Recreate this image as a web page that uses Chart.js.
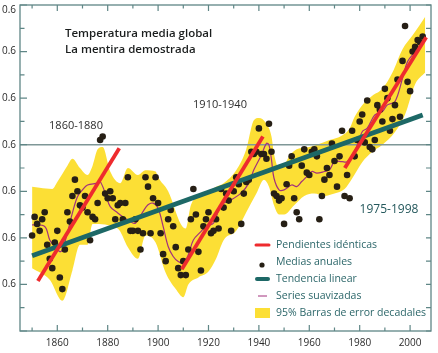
<!DOCTYPE html>
<html><head><meta charset="utf-8">
<script src="https://cdn.jsdelivr.net/npm/chart.js@4.4.1/dist/chart.umd.min.js"></script>
<style>html,body{margin:0;padding:0;background:#fff;}canvas{display:block}</style>
</head><body>
<div style="width:438px;height:353px"><canvas id="c" width="438" height="353"></canvas></div>
<script>
// ---------- DATA ----------
const firstYear = 1850;
const annualMeans = [
 -0.39,-0.31,-0.34,-0.37,-0.32,-0.29,-0.43,-0.49,-0.53,-0.42,
 -0.37,-0.57,-0.62,-0.45,-0.29,-0.33,-0.22,-0.15,-0.20,-0.26,
 -0.27,-0.22,-0.29,-0.41,-0.31,-0.32,-0.25,0.02,0.035,-0.21,
 -0.23,-0.20,-0.23,-0.32,-0.26,-0.25,-0.32,-0.25,-0.14,-0.37,
 -0.37,-0.32,-0.37,-0.45,-0.38,-0.14,-0.18,-0.38,-0.23,-0.14,
 -0.25,-0.38,-0.47,-0.50,-0.32,-0.28,-0.35,-0.44,-0.53,-0.56,
 -0.50,-0.56,-0.45,-0.32,-0.19,-0.30,-0.46,-0.54,-0.35,-0.32,
 -0.29,-0.38,-0.37,-0.32,-0.36,-0.19,-0.27,-0.21,-0.24,-0.37,
 -0.20,-0.14,-0.17,-0.34,-0.21,-0.16,-0.15,-0.03,-0.04,-0.03,
 0.07,-0.04,-0.04,-0.06,0.09,-0.03,-0.21,-0.22,-0.24,-0.23,
 -0.34,-0.17,-0.09,-0.05,-0.23,-0.29,-0.32,-0.09,-0.02,-0.12,
 -0.13,-0.03,-0.02,-0.05,-0.32,-0.22,-0.15,-0.10,-0.13,0.005,
 -0.07,-0.18,-0.05,0.06,-0.22,-0.13,-0.23,0.06,-0.05,0.02,
 0.10,0.13,0.01,0.19,-0.01,-0.02,0.02,0.17,0.15,0.10,
 0.24,0.20,0.06,0.11,0.17,0.28,0.12,0.36,0.51,0.27,
 0.23,0.40,0.42,0.45,0.44,0.465
];
const smoothYears = [1850,1855,1857,1859,1861,1862,1864,1866,1868,1870,1872,1876,1877,1879,1881,1884,1886,1889,1891,1894,1896,1898,1900,1902,1904,1906,1908,1910,1912,1914,1917,1919,1922,1925,1929,1933,1936,1938,1941,1943,1944,1945,1946,1948,1950,1953,1955,1957,1959,1961,1963,1966,1968,1970,1973,1975,1978,1981,1983,1986,1989,1991,1994,1997,1999,2002,2005];
const smoothValues = [-0.344,-0.351,-0.409,-0.437,-0.459,-0.452,-0.379,-0.293,-0.223,-0.194,-0.173,-0.165,-0.158,-0.207,-0.266,-0.293,-0.309,-0.330,-0.337,-0.287,-0.258,-0.251,-0.273,-0.351,-0.437,-0.480,-0.502,-0.509,-0.473,-0.409,-0.373,-0.351,-0.337,-0.258,-0.237,-0.207,-0.165,-0.108,-0.044,0.006,-0.001,-0.065,-0.144,-0.194,-0.194,-0.173,-0.180,-0.158,-0.137,-0.115,-0.122,-0.115,-0.108,-0.073,-0.073,-0.073,-0.030,0.056,0.071,0.128,0.142,0.171,0.185,0.285,0.357,0.400,0.442];
const bandUpperYears = [1850,1853,1858,1860,1864,1866,1869,1872,1874,1876,1878,1881,1885,1888,1892,1895,1899,1900,1904,1909,1911,1913,1916,1920,1923,1926,1931,1935,1938,1940,1943,1945,1946,1948,1950,1952,1955,1960,1963,1968,1973,1976,1978,1981,1985,1989,1993,1997,2001,2006];
const bandUpper = [-0.18,-0.185,-0.19,-0.16,-0.09,-0.06,-0.10,-0.13,-0.09,-0.02,-0.01,-0.115,-0.165,-0.10,-0.13,-0.11,-0.115,-0.14,-0.20,-0.34,-0.36,-0.26,-0.22,-0.20,-0.18,-0.165,-0.11,-0.02,0.105,0.115,0.09,0.035,-0.04,-0.10,-0.09,-0.05,-0.02,-0.01,0.0,0.02,0.04,0.07,0.12,0.17,0.21,0.24,0.31,0.41,0.47,0.55];
const bandLowerYears = [1850,1857,1862,1866,1869,1872,1874,1884,1888,1892,1895,1899,1903,1907,1910,1912,1916,1920,1923,1926,1931,1935,1939,1942,1944,1946,1948,1950,1954,1958,1962,1966,1970,1974,1977,1981,1985,1989,1994,1998,2002,2006];
const bandLower = [-0.53,-0.58,-0.67,-0.54,-0.43,-0.43,-0.34,-0.36,-0.44,-0.49,-0.39,-0.42,-0.55,-0.62,-0.655,-0.60,-0.57,-0.545,-0.49,-0.41,-0.37,-0.29,-0.21,-0.15,-0.18,-0.26,-0.30,-0.30,-0.26,-0.22,-0.21,-0.22,-0.21,-0.19,-0.145,-0.075,-0.03,0.0,0.055,0.13,0.26,0.31];
const slopePeriods = [[1852.3,1884.6],[1909.4,1941.6],[1974.1,2006.4]];
const slopeValues = [[-0.585,-0.015],[-0.535,0.035],[-0.10,0.462]];
const trendYears = [1850,2005];
const trendValues = [-0.477,0.128];
const xTickYears = [1860,1880,1900,1920,1940,1960,1980,2000];
const xTickLabels = ['1860','1880','1900','1920','1940','1960','1980','2000'];
const yTickValues = [-0.6,-0.4,-0.2,0,0.2,0.4,0.6];
const yTickLabels = ['0.6','0.6','0.6','0.6','0.6','0.6','0.6'];
const periodLabels = ['1860-1880','1910-1940','1975-1998'];
const legendLabels = ['Pendientes idénticas','Medias anuales','Tendencia linear','Series suavizadas','95% Barras de error decadales'];
const titleLines = ['Temperatura media global','La mentira demostrada'];
const xMin = 1845.2, xMax = 2008.3, yMin = -0.8, yMax = 0.6;

// ---------- STYLE ----------
const C = {yellow:'#fcdf35', red:'#ee2b2e', teal:'#1d6866', dot:'#261f15', purple:'#a2307c',
  axis:'#5f8686', zero:'#7f9797', text:'#2b2b2b', legendText:'#2b6669'};
const SANS = '"Open Sans", "Noto Sans", sans-serif';

const pts = (xs, ys) => xs.map((x,i)=>({x:x, y:ys[i]}));
const annualPts = annualMeans.map((v,i)=>({x:firstYear+i, y:v}));

const datasets = [
  {type:'line', data:pts(bandUpperYears,bandUpper), fill:'+1', backgroundColor:C.yellow, borderWidth:0, pointRadius:0, cubicInterpolationMode:'monotone', order:10},
  {type:'line', data:pts(bandLowerYears,bandLower), fill:false, borderWidth:0, pointRadius:0, cubicInterpolationMode:'monotone', order:11},
  {type:'line', data:[{x:xMin,y:0},{x:xMax,y:0}], borderColor:C.zero, borderWidth:1.4, pointRadius:0, order:9},
  {type:'line', data:pts(smoothYears,smoothValues), borderColor:C.purple, borderWidth:1.2, pointRadius:0, tension:0.35, order:8},
  {type:'scatter', data:annualPts, backgroundColor:C.dot, borderWidth:0, pointRadius:3.3, order:7},
];
slopePeriods.forEach((p,i)=>datasets.push({type:'line', data:pts(p,slopeValues[i]), borderColor:C.red, borderWidth:3.8, pointRadius:0, order:5}));
datasets.push({type:'line', data:pts(trendYears,trendValues), borderColor:C.teal, borderWidth:4.8, pointRadius:0, order:6});

const deco = {
  id:'deco',
  afterDatasetsDraw(chart){
    const ctx = chart.ctx, a = chart.chartArea, xs = chart.scales.x, ys = chart.scales.y;
    ctx.save();
    ctx.strokeStyle = C.axis; ctx.lineWidth = 1.3;
    ctx.strokeRect(a.left, a.top, a.right-a.left, a.bottom-a.top);
    ctx.lineWidth = 1.2;
    for (let yr = 1850; yr <= 2000; yr += 10) {
      const px = xs.getPixelForValue(yr);
      const long = xTickYears.includes(yr);
      const L = long ? 6 : 3.5;
      ctx.beginPath(); ctx.moveTo(px, a.bottom); ctx.lineTo(px, a.bottom - L);
      ctx.moveTo(px, a.top); ctx.lineTo(px, a.top + L); ctx.stroke();
    }
    for (let k = 0; k <= 14; k++) {
      const v = yMin + k*0.1;
      const py = ys.getPixelForValue(v);
      const major = (k % 2 === 0);
      ctx.beginPath(); ctx.moveTo(a.left, py); ctx.lineTo(a.left + (major?7:4.5), py);
      ctx.moveTo(a.right, py); ctx.lineTo(a.right - 5, py); ctx.stroke();
    }
    ctx.fillStyle = C.text; ctx.font = '10px ' + SANS;
    ctx.textAlign = 'center'; ctx.textBaseline = 'middle';
    xTickYears.forEach((yr,i)=>ctx.fillText(xTickLabels[i], xs.getPixelForValue(yr), a.bottom + 12));
    ctx.textAlign = 'right';
    yTickValues.forEach((v,i)=>{ let py = ys.getPixelForValue(v); if (py < a.top + 5) py = a.top + 5; ctx.fillText(yTickLabels[i], 16, py); });
    ctx.fillStyle = '#1b1e1e'; ctx.textAlign = 'left';
    ctx.font = '600 11.5px ' + SANS;
    ctx.fillText(titleLines[0], 65, 34);
    ctx.fillText(titleLines[1], 65, 50);
    ctx.font = '11px ' + SANS; ctx.textAlign = 'center'; ctx.fillStyle = '#2e2e2e';
    ctx.fillText(periodLabels[0], 76, 126);
    ctx.fillText(periodLabels[1], 220, 105);
    ctx.fillStyle = '#24585c';
    ctx.font = '12px ' + SANS;
    ctx.fillText(periodLabels[2], 389, 210);
    const lx = 255, tx = 276, rows = [245, 262, 279, 296, 313];
    ctx.textAlign = 'left'; ctx.font = '10.5px ' + SANS; ctx.fillStyle = C.legendText;
    legendLabels.forEach((t,i)=>ctx.fillText(t, tx, rows[i]));
    ctx.lineCap = 'round';
    ctx.strokeStyle = C.red; ctx.lineWidth = 3;
    ctx.beginPath(); ctx.moveTo(lx+1, rows[0]); ctx.lineTo(lx+14, rows[0]); ctx.stroke();
    ctx.fillStyle = C.dot; ctx.beginPath(); ctx.arc(lx+7, rows[1]+3, 2.6, 0, Math.PI*2); ctx.fill();
    ctx.strokeStyle = C.teal; ctx.lineWidth = 4;
    ctx.beginPath(); ctx.moveTo(lx+2, rows[2]); ctx.lineTo(lx+13, rows[2]); ctx.stroke();
    ctx.strokeStyle = C.purple; ctx.lineWidth = 1; ctx.lineCap = 'butt';
    ctx.beginPath(); ctx.moveTo(lx+3, rows[3]); ctx.lineTo(lx+12, rows[3]); ctx.stroke();
    ctx.fillStyle = C.yellow; ctx.fillRect(lx, rows[4]-5, 15, 10);
    ctx.restore();
  }
};

new Chart(document.getElementById('c'), {
  data:{datasets},
  options:{
    responsive:false, animation:false, devicePixelRatio:1,
    layout:{padding:{left:20, right:7, top:5, bottom:22}},
    plugins:{legend:{display:false}, tooltip:{enabled:false}},
    scales:{
      x:{type:'linear', min:xMin, max:xMax, display:false},
      y:{type:'linear', min:yMin, max:yMax, display:false}
    }
  },
  plugins:[deco]
});
</script>
</body></html>
